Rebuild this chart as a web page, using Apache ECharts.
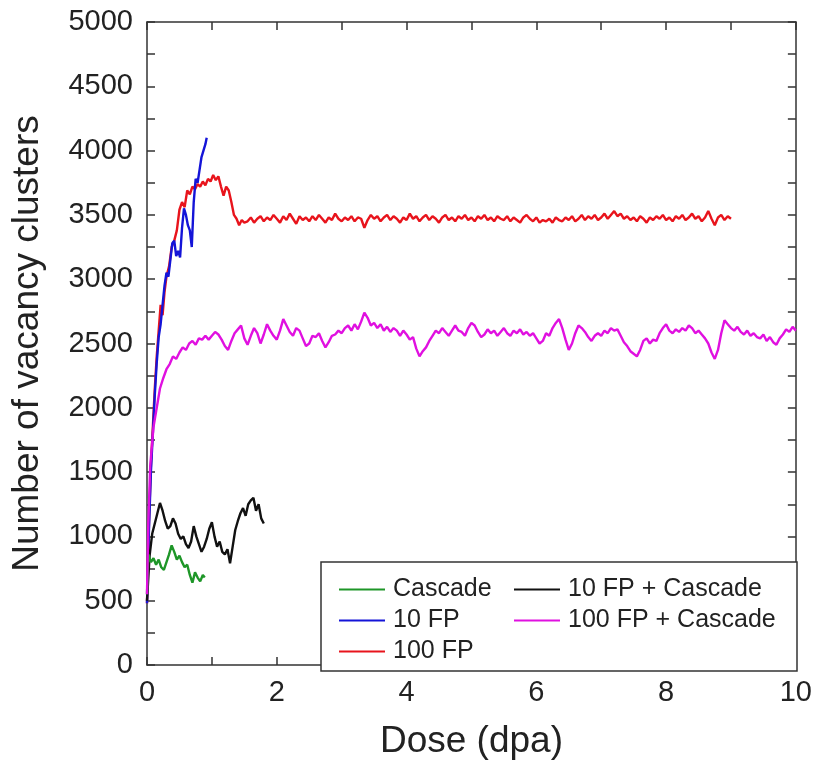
<!DOCTYPE html>
<html>
<head>
<meta charset="utf-8">
<script src="https://cdn.jsdelivr.net/npm/echarts@6/dist/echarts.min.js"></script>
<style>
html,body{margin:0;padding:0;background:#fff;}
#chart{width:815px;height:765px;}
</style>
</head>
<body>
<div id="chart"></div>
<script>
// ---- Axis ticks ----
const xTicks = [0, 2, 4, 6, 8, 10];
const yTicks = [0, 500, 1000, 1500, 2000, 2500, 3000, 3500, 4000, 4500, 5000];

// ---- Series names ----
const seriesNames = ['Cascade', '10 FP', '100 FP', '10 FP + Cascade', '100 FP + Cascade'];

// ---- Cascade (green) ----
const cascadeX = [0, 0.02, 0.06, 0.10, 0.14, 0.18, 0.22, 0.26, 0.30, 0.34, 0.38, 0.42, 0.46, 0.50, 0.54, 0.58, 0.62, 0.66, 0.70, 0.74, 0.78, 0.82, 0.86, 0.89];
const cascadeY = [550, 860, 800, 830, 780, 820, 760, 740, 800, 860, 930, 880, 820, 850, 800, 760, 780, 700, 640, 720, 680, 650, 700, 680];

// ---- 10 FP (blue) ----
const fp10X = [0, 0.03, 0.06, 0.09, 0.12, 0.15, 0.18, 0.21, 0.24, 0.27, 0.30, 0.33, 0.36, 0.39, 0.42, 0.45, 0.48, 0.51, 0.54, 0.57, 0.60, 0.63, 0.66, 0.69, 0.72, 0.75, 0.78, 0.81, 0.84, 0.87, 0.90, 0.92];
const fp10Y = [480, 1050, 1500, 1800, 2100, 2350, 2550, 2650, 2800, 2950, 3050, 3020, 3150, 3280, 3300, 3180, 3220, 3170, 3400, 3550, 3500, 3420, 3380, 3250, 3600, 3780, 3750, 3850, 3950, 4000, 4050, 4100];

// ---- 100 FP (red): irregular start, then uniform sampling ----
const fp100StartX = [0, 0.03, 0.06, 0.09, 0.12, 0.15, 0.18, 0.21, 0.24, 0.27, 0.30, 0.34, 0.38, 0.42, 0.46, 0.50, 0.54, 0.58, 0.62, 0.66, 0.70, 0.74, 0.78, 0.82, 0.86, 0.90, 0.94, 0.98, 1.02, 1.06, 1.10, 1.14, 1.18, 1.22, 1.26, 1.30, 1.34, 1.38, 1.42, 1.46, 1.50];
const fp100StartY = [480, 1100, 1550, 1850, 2150, 2400, 2600, 2800, 2720, 2900, 3020, 3100, 3250, 3300, 3380, 3540, 3600, 3560, 3690, 3660, 3720, 3700, 3740, 3720, 3760, 3730, 3780, 3760, 3810, 3770, 3800, 3720, 3650, 3720, 3690, 3600, 3500, 3470, 3420, 3460, 3440];
const fp100TailStart = 1.55, fp100TailStep = 0.05;
const fp100TailY = [
  3450, 3480, 3440, 3470, 3490, 3450, 3480, 3460, 3500, 3470,
  3440, 3490, 3460, 3510, 3470, 3430, 3490, 3460, 3480, 3450,
  3490, 3460, 3500, 3470, 3440, 3480, 3460, 3510, 3470, 3450,
  3480, 3460, 3490, 3450, 3480, 3470, 3400, 3460, 3500, 3470,
  3490, 3450, 3480, 3500, 3460, 3490, 3470, 3440, 3480, 3460,
  3510, 3470, 3490, 3450, 3480, 3500, 3460, 3490, 3470, 3440,
  3480, 3500, 3460, 3480, 3450, 3490, 3470, 3500, 3460, 3480,
  3450, 3490, 3470, 3500, 3460, 3480, 3450, 3490, 3470, 3460,
  3490, 3450, 3480, 3460, 3440, 3480, 3500, 3470, 3450, 3480,
  3440, 3460, 3450, 3470, 3440, 3480, 3460, 3450, 3480, 3460,
  3490, 3450, 3470, 3500, 3460, 3490, 3470, 3500, 3460, 3480,
  3510, 3470, 3500, 3530, 3490, 3510, 3470, 3490, 3460, 3480,
  3450, 3490, 3470, 3440, 3480, 3460, 3490, 3470, 3500, 3460,
  3480, 3450, 3490, 3470, 3500, 3460, 3480, 3510, 3470, 3490,
  3450, 3480, 3530, 3470, 3420, 3480, 3500, 3460, 3490, 3470
];

// ---- 10 FP + Cascade (black) ----
const fp10cX = [0, 0.04, 0.08, 0.12, 0.16, 0.20, 0.24, 0.28, 0.32, 0.36, 0.40, 0.44, 0.48, 0.52, 0.56, 0.60, 0.64, 0.68, 0.72, 0.76, 0.80, 0.84, 0.88, 0.92, 0.96, 1.00, 1.04, 1.08, 1.12, 1.16, 1.20, 1.24, 1.28, 1.32, 1.36, 1.40, 1.44, 1.48, 1.52, 1.56, 1.60, 1.64, 1.68, 1.72, 1.76, 1.80];
const fp10cY = [500, 850, 1020, 1100, 1180, 1260, 1200, 1120, 1060, 1080, 1140, 1100, 1020, 980, 1000, 940, 910, 960, 1080, 1000, 940, 880, 920, 980, 1060, 1110, 1000, 920, 960, 880, 860, 900, 790, 920, 1050, 1120, 1180, 1220, 1160, 1250, 1280, 1300, 1200, 1250, 1140, 1100];

// ---- 100 FP + Cascade (magenta): irregular start, then uniform sampling ----
const fp100cStartX = [0, 0.02, 0.05, 0.10, 0.15, 0.20, 0.25, 0.30, 0.35, 0.40, 0.45, 0.50, 0.55, 0.60, 0.65, 0.70, 0.75, 0.80, 0.85, 0.90, 0.95];
const fp100cStartY = [550, 1100, 1550, 1850, 2000, 2150, 2230, 2300, 2340, 2400, 2380, 2430, 2470, 2450, 2500, 2520, 2490, 2540, 2530, 2560, 2530];
const fp100cTailStart = 1.0, fp100cTailStep = 0.05;
const fp100cTailY = [
  2560, 2590, 2570, 2530, 2480, 2450, 2520, 2580, 2610, 2640,
  2540, 2490, 2560, 2620, 2580, 2500, 2570, 2650, 2600, 2560,
  2530, 2600, 2690, 2640, 2590, 2560, 2620, 2600, 2540, 2480,
  2500, 2560, 2550, 2580, 2520, 2470, 2510, 2560, 2570, 2600,
  2580, 2620, 2640, 2600, 2650, 2610, 2670, 2740, 2700, 2640,
  2660, 2620, 2650, 2600, 2630, 2590, 2620, 2600, 2560, 2600,
  2570, 2530, 2550, 2460, 2400, 2440, 2470, 2520, 2560, 2600,
  2580, 2620, 2590, 2560, 2600, 2640, 2600, 2590, 2560, 2620,
  2660, 2640, 2590, 2550, 2570, 2610, 2580, 2600, 2560, 2590,
  2620, 2580, 2560, 2600, 2580, 2610, 2570, 2590, 2560, 2580,
  2540, 2500, 2520, 2580, 2560, 2620, 2660, 2690, 2620, 2530,
  2450, 2500, 2580, 2640, 2620, 2590, 2550, 2520, 2560, 2580,
  2560, 2600, 2580, 2620, 2600, 2610, 2560, 2510, 2480, 2440,
  2420, 2400, 2450, 2520, 2540, 2500, 2530, 2520, 2580, 2620,
  2650, 2600, 2580, 2610, 2590, 2620, 2600, 2640, 2620, 2580,
  2600, 2570, 2540, 2500, 2430, 2380, 2450, 2580, 2680, 2650,
  2620, 2600, 2630, 2590, 2570, 2600, 2560, 2580, 2550, 2540,
  2570, 2520, 2550, 2510, 2490, 2540, 2570, 2610, 2590, 2630,
  2600
];

// ---- build [x,y] pairs ----
function pairs(xs, ys) { return xs.map((x, i) => [x, ys[i]]); }
function uniformPairs(start, step, ys) { return ys.map((y, i) => [+(start + i * step).toFixed(3), y]); }

const cascadeData = pairs(cascadeX, cascadeY);
const fp10Data = pairs(fp10X, fp10Y);
const fp100Data = pairs(fp100StartX, fp100StartY).concat(uniformPairs(fp100TailStart, fp100TailStep, fp100TailY));
const fp10cData = pairs(fp10cX, fp10cY);
const fp100cData = pairs(fp100cStartX, fp100cStartY).concat(uniformPairs(fp100cTailStart, fp100cTailStep, fp100cTailY));

const FONT = 'Liberation Sans';
const AXC = '#333';
const lineAxis = { show: true, onZero: false, lineStyle: { color: AXC, width: 1.5 } };
const tick = { show: true, inside: true, length: 8, lineStyle: { color: AXC, width: 1.5 } };
const minor = { show: true, splitNumber: 2, length: 8, lineStyle: { color: AXC, width: 1.5 } };

const chart = echarts.init(document.getElementById('chart'), null, { renderer: 'canvas' });

function mkLine(name, data, color, z) {
  return {
    name: name, type: 'line', data: data, showSymbol: false, symbol: 'none',
    lineStyle: { color: color, width: 2.4 }, itemStyle: { color: color },
    animation: false, z: z
  };
}

const legendText = { fontSize: 25, color: '#222', fontFamily: FONT, lineHeight: 25, padding: [0, 0, 0, 3] };

const option = {
  backgroundColor: '#fff',
  animation: false,
  grid: { left: 147, top: 22, right: 18, bottom: 94, show: false },
  xAxis: [
    {
      type: 'value', min: 0, max: 10, interval: 2, position: 'bottom',
      axisLine: lineAxis, axisTick: tick, minorTick: minor, splitLine: { show: false },
      axisLabel: { fontSize: 29, color: '#222', margin: 13, fontFamily: FONT,
        formatter: v => (xTicks.indexOf(v) >= 0 ? String(v) : '') },
      name: 'Dose (dpa)', nameLocation: 'middle', nameGap: 58,
      nameTextStyle: { fontSize: 37, color: '#222', fontFamily: FONT }
    },
    {
      type: 'value', min: 0, max: 10, interval: 2, position: 'top',
      axisLine: lineAxis, axisTick: tick, minorTick: minor, splitLine: { show: false },
      axisLabel: { show: false }
    }
  ],
  yAxis: [
    {
      type: 'value', min: 0, max: 5000, interval: 500, position: 'left',
      axisLine: lineAxis, axisTick: tick, minorTick: minor, splitLine: { show: false },
      axisLabel: { fontSize: 29, color: '#222', margin: 14, fontFamily: FONT,
        formatter: v => (yTicks.indexOf(v) >= 0 ? String(v) : '') },
      name: 'Number of vacancy clusters', nameLocation: 'middle', nameGap: 101,
      nameTextStyle: { fontSize: 37, color: '#222', fontFamily: FONT }
    },
    {
      type: 'value', min: 0, max: 5000, interval: 500, position: 'right',
      axisLine: lineAxis, axisTick: tick, minorTick: minor, splitLine: { show: false },
      axisLabel: { show: false }
    }
  ],
  legend: [
    {
      orient: 'vertical', left: 334, top: 572, itemGap: 6,
      icon: 'rect', itemWidth: 46, itemHeight: 2, itemStyle: { borderWidth: 0 },
      textStyle: legendText,
      data: [seriesNames[0], seriesNames[1], seriesNames[2]], z: 10
    },
    {
      orient: 'vertical', left: 509, top: 572, itemGap: 6,
      icon: 'rect', itemWidth: 46, itemHeight: 2, itemStyle: { borderWidth: 0 },
      textStyle: legendText,
      data: [seriesNames[3], seriesNames[4]], z: 10
    }
  ],
  graphic: [
    {
      type: 'rect', z: 5, silent: true,
      shape: { x: 321, y: 562, width: 476, height: 109 },
      style: { fill: '#fff', stroke: AXC, lineWidth: 1.5 }
    }
  ],
  series: [
    mkLine(seriesNames[2], fp100Data, '#e8141c', 2),
    mkLine(seriesNames[1], fp10Data, '#1414d8', 3),
    mkLine(seriesNames[3], fp10cData, '#111111', 3),
    mkLine(seriesNames[0], cascadeData, '#1e9628', 4),
    mkLine(seriesNames[4], fp100cData, '#e010e0', 4)
  ]
};
chart.setOption(option);
</script>
</body>
</html>
